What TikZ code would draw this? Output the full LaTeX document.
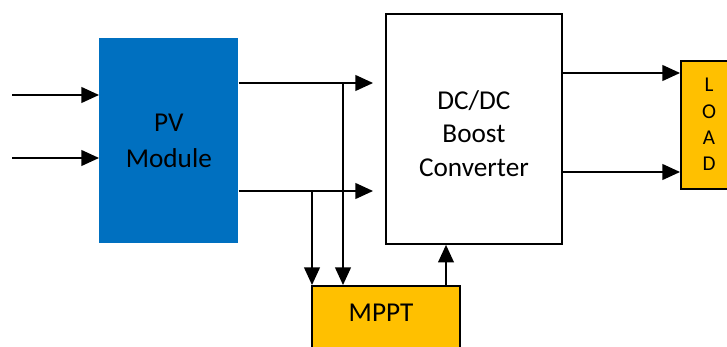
\documentclass[tikz,border=0pt]{standalone}
\usepackage{fontspec}
\setmainfont{Carlito}
\usetikzlibrary{arrows.meta,positioning}
\definecolor{pvblue}{HTML}{0070C0}
\definecolor{mpptyellow}{HTML}{FFC000}
\begin{document}
\begin{tikzpicture}[x=0.02cm,y=-0.02cm,
	>={Triangle[length=10pt,width=9pt]},
	wire/.style={line width=0.8pt,->},
	pvbox/.style={fill=pvblue,inner sep=0pt,align=center,font=\fontsize{15.5}{20}\selectfont},
	convbox/.style={draw=black,fill=white,line width=1.1pt,inner sep=0pt,align=center,font=\fontsize{15.5}{19}\selectfont},
	yellowbox/.style={draw=black,fill=mpptyellow,line width=1.1pt,inner sep=0pt}]
	\useasboundingbox (0,0) rectangle (727,347);
	\clip (0,0) rectangle (727,347);
%----------------------------------------------------------
	% Blocks
	%------------------------------------------------------
	\node[pvbox, anchor=north west, minimum width=2.78cm, minimum height=4.1cm] (pv) at (99,38) {PV\\Module};
	\node[convbox, anchor=north west, minimum width=3.52cm, minimum height=4.6cm] (conv) at (385,13) {\rule{0pt}{16pt}DC/DC\\Boost\\Converter};
	\node[yellowbox, anchor=north west, minimum width=2.96cm, minimum height=2cm] (mppt) at (311,285) {};
	\node[yellowbox, anchor=north west, minimum width=1.6cm, minimum height=2.56cm] (load) at (680,60) {};
	
	%Labels
	\node[font=\fontsize{15.5}{18}\selectfont] (mpptlabel) at (381,313) {MPPT};
	\node[align=center, font=\fontsize{12}{15}\selectfont] (loadlabel) at (709,124.5) {L\\O\\A\\D};
	
	%Points
	%------------------------------------------------------
	\coordinate (in1) at (12,95);
	\coordinate (in2) at (12,158);
	\coordinate (pvtop) at (373,83);
	\coordinate (pvbot) at (373,191);
	\coordinate (tapa) at (343,83);
	\coordinate (tapb) at (312,191);
	\coordinate (ctrl) at (446,285);
	\coordinate (outa) at (561,73);
	\coordinate (outb) at (561,172);
	
	%Lines
	%------------------------------------------------------
	\draw[wire] (in1) -- (in1 -| pv.west);
	\draw[wire] (in2) -- (in2 -| pv.west);
	\draw[wire] (pv.east |- pvtop) -- (pvtop);
	\draw[wire] (pv.east |- pvbot) -- (pvbot);
	\draw[wire] (tapa) -- (tapa |- mppt.north);
	\draw[wire] (tapb) -- (tapb |- mppt.north);
	\draw[wire] (ctrl) -- (ctrl |- conv.south);
	\draw[wire] (outa) -- (outa -| load.west);
	\draw[wire] (outb) -- (outb -| load.west);
\end{tikzpicture}
\end{document}
